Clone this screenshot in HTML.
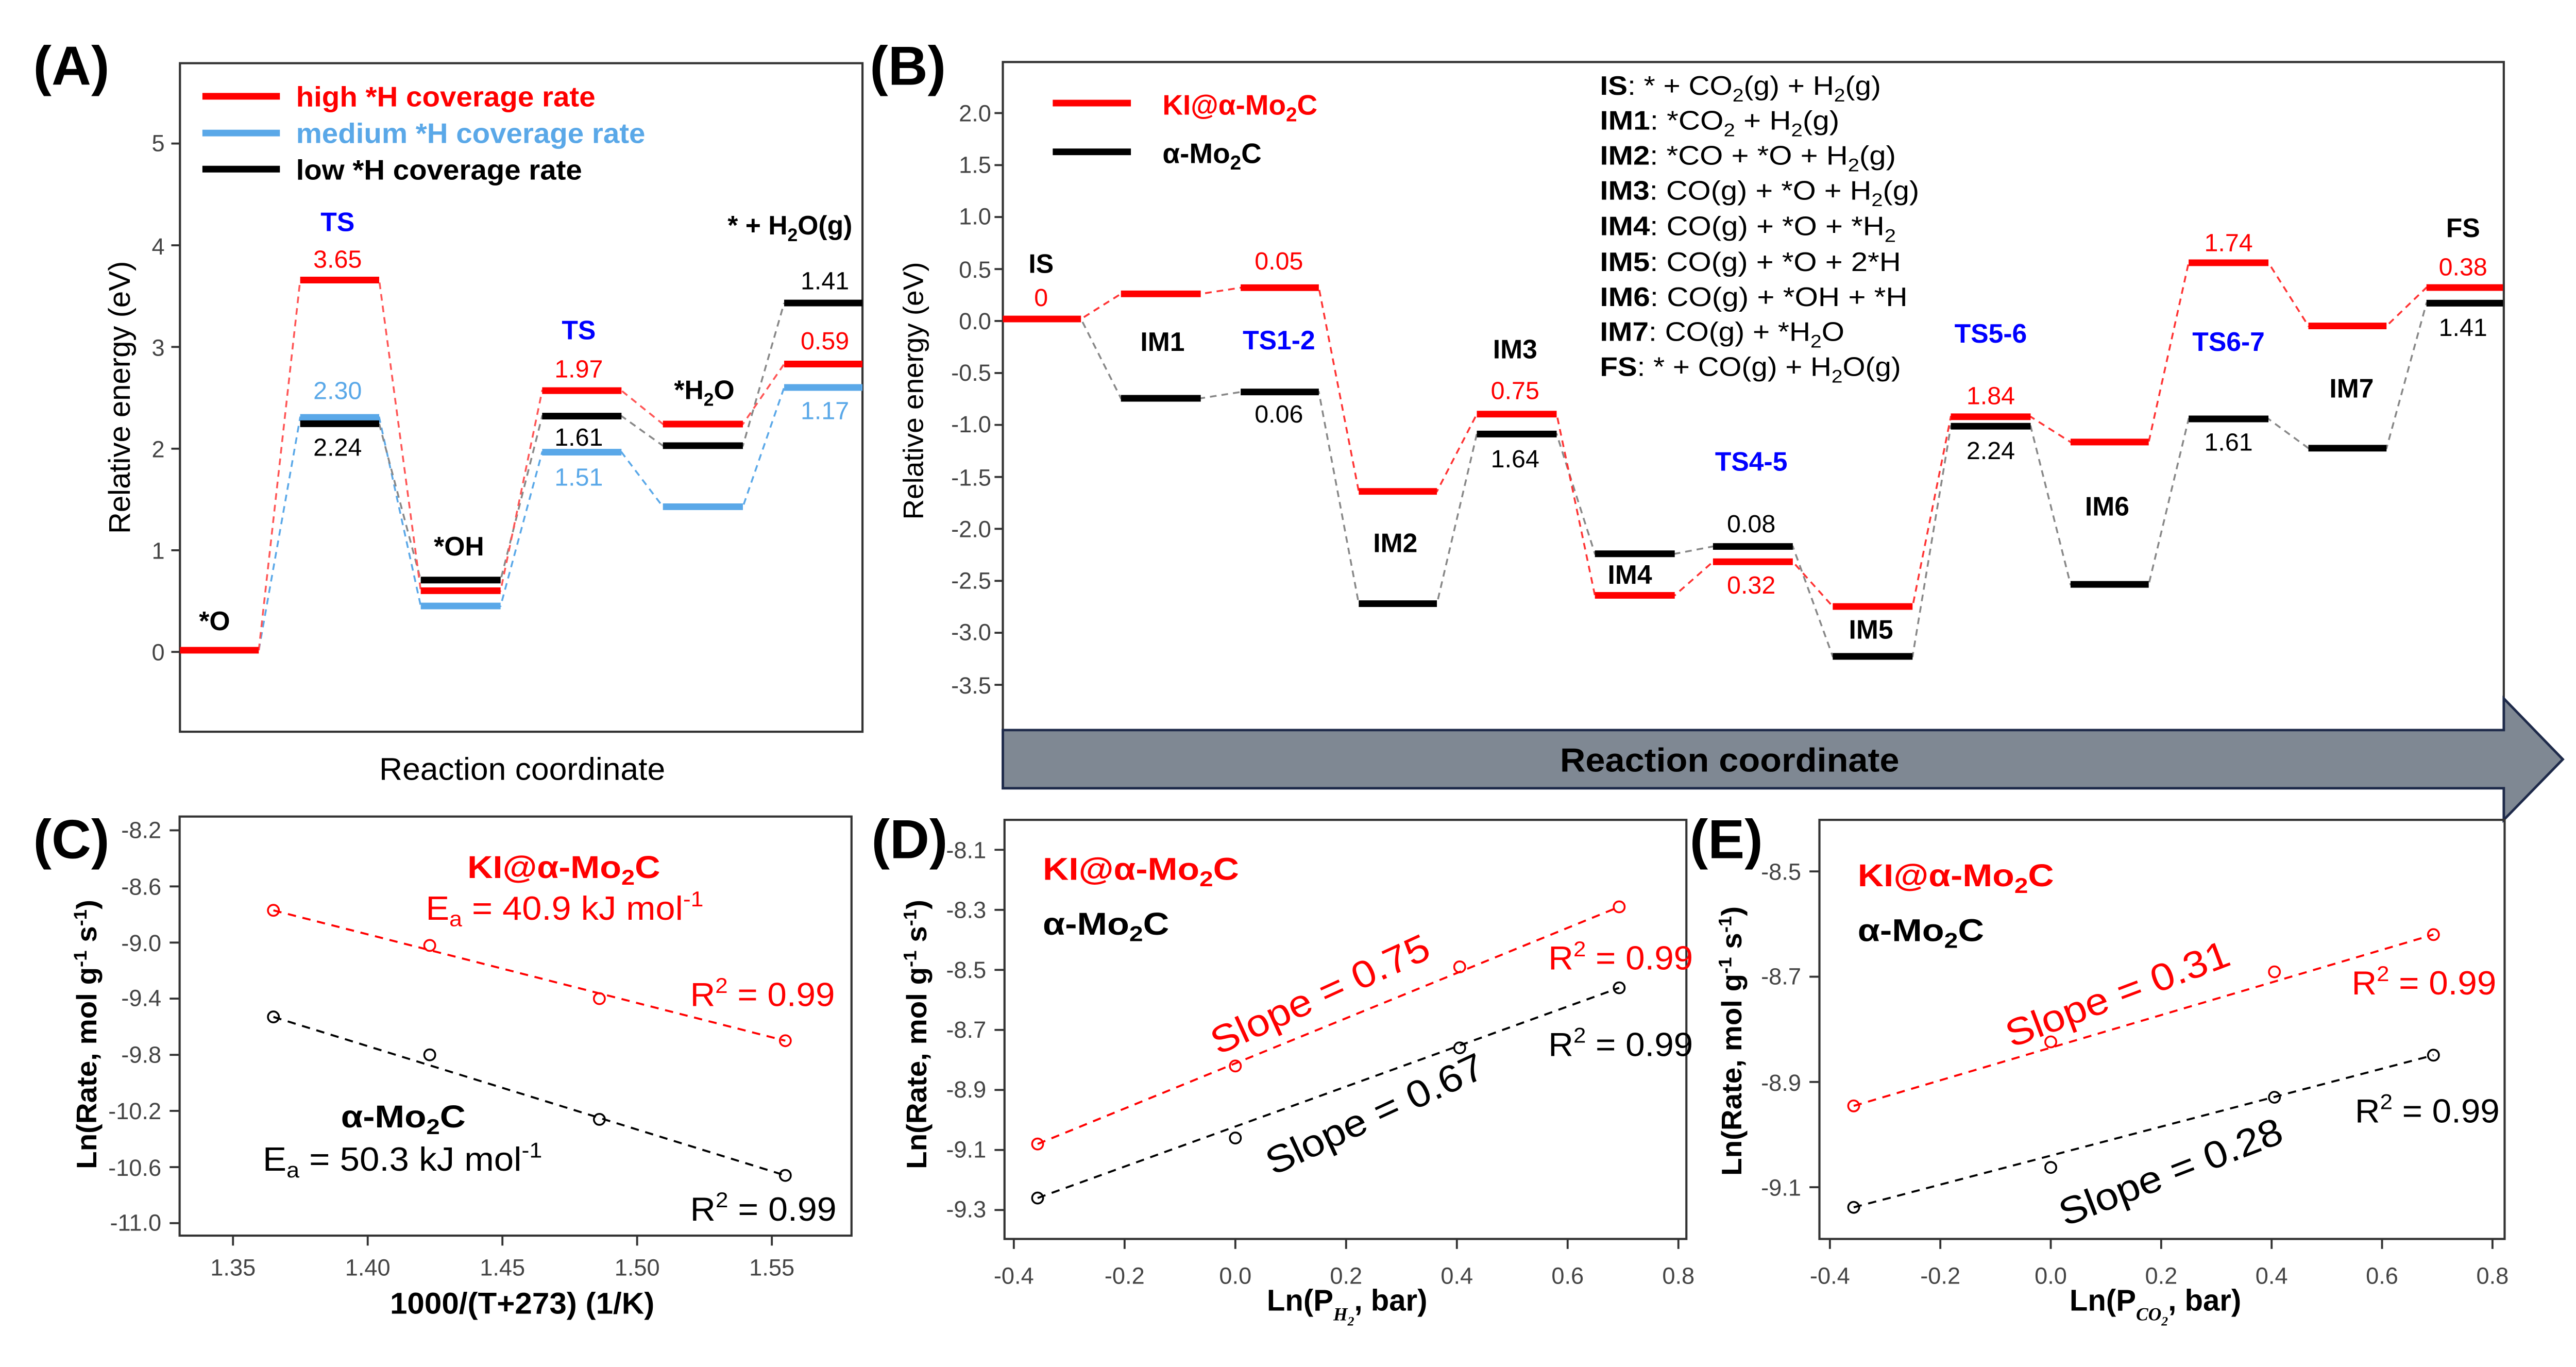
<!DOCTYPE html>
<html><head><meta charset="utf-8"><style>
html,body{margin:0;padding:0;background:#fff;}
svg{display:block;}
text{font-family:"Liberation Sans",sans-serif;}
.n{font-family:"Liberation Sans Narrow","Liberation Sans",sans-serif;}
.tk{font-family:"Liberation Sans Narrow","Liberation Sans",sans-serif;font-size:14px;fill:#444;}
.b{font-weight:bold;}
</style></head><body>
<svg width="5039" height="2653" viewBox="0 0 1561 822" preserveAspectRatio="none" xmlns="http://www.w3.org/2000/svg">
<rect width="1561" height="822" fill="#fff"/>

<!-- ================= PANEL A ================= -->
<text x="20" y="51" font-size="33" class="b">(A)</text>
<rect x="108.2" y="38" width="410.4" height="402" fill="none" stroke="#333" stroke-width="1.3"/>
<g stroke="#333" stroke-width="1.2">
<line x1="103" y1="392" x2="108" y2="392"/><line x1="103" y1="330.9" x2="108" y2="330.9"/><line x1="103" y1="269.8" x2="108" y2="269.8"/><line x1="103" y1="208.6" x2="108" y2="208.6"/><line x1="103" y1="147.5" x2="108" y2="147.5"/><line x1="103" y1="86.3" x2="108" y2="86.3"/>
</g>
<g class="tk" text-anchor="end" font-size="15">
<text x="99" y="397">0</text><text x="99" y="336">1</text><text x="99" y="275">2</text><text x="99" y="214">3</text><text x="99" y="153">4</text><text x="99" y="91">5</text>
</g>
<text transform="translate(78,239) rotate(-90)" text-anchor="middle" font-size="18">Relative energy (eV)</text>
<text x="314" y="469" text-anchor="middle" font-size="19" textLength="172" lengthAdjust="spacingAndGlyphs">Reaction coordinate</text>
<!-- legend -->
<line x1="121.7" y1="57.9" x2="168.3" y2="57.9" stroke="#f00" stroke-width="4"/>
<line x1="121.7" y1="80" x2="168.3" y2="80" stroke="#5aa8e8" stroke-width="4"/>
<line x1="121.7" y1="101.7" x2="168.3" y2="101.7" stroke="#000" stroke-width="4"/>
<text x="178" y="64" font-size="17" class="b" fill="#f00" textLength="180" lengthAdjust="spacingAndGlyphs">high *H coverage rate</text>
<text x="178" y="86" font-size="17" class="b" fill="#5aa8e8" textLength="210" lengthAdjust="spacingAndGlyphs">medium *H coverage rate</text>
<text x="178" y="108" font-size="17" class="b" textLength="172" lengthAdjust="spacingAndGlyphs">low *H coverage rate</text>
<!-- connectors -->
<g fill="none" stroke-width="1.1" stroke-dasharray="4,3">
<polyline stroke="#5aa8e8" points="155.6,391 180.5,251 228,251 253,364.4 301,364.4 326,271.9 373.7,271.9 398.6,304.7 446.7,304.7 471.5,233"/>
<polyline stroke="#888" points="228,254.8 253,348.8 301,348.8 326,250.2 373.7,250.2 398.6,268 446.7,268 471.5,182.2"/>
<polyline stroke="#f55" points="155.6,391 180.5,168.4 228,168.4 253,355.2 301,355.2 326,234.9 373.7,234.9 398.6,255 446.7,255 471.5,218.9"/>
</g>
<g stroke-width="4">
<line x1="108.2" y1="391" x2="155.6" y2="391" stroke="#f00"/>
<line x1="180.5" y1="251" x2="228" y2="251" stroke="#5aa8e8"/>
<line x1="180.5" y1="254.8" x2="228" y2="254.8" stroke="#000"/>
<line x1="180.5" y1="168.4" x2="228" y2="168.4" stroke="#f00"/>
<line x1="253" y1="348.8" x2="301" y2="348.8" stroke="#000"/>
<line x1="253" y1="355.2" x2="301" y2="355.2" stroke="#f00"/>
<line x1="253" y1="364.4" x2="301" y2="364.4" stroke="#5aa8e8"/>
<line x1="326" y1="234.9" x2="373.7" y2="234.9" stroke="#f00"/>
<line x1="326" y1="250.2" x2="373.7" y2="250.2" stroke="#000"/>
<line x1="326" y1="271.9" x2="373.7" y2="271.9" stroke="#5aa8e8"/>
<line x1="398.6" y1="255" x2="446.7" y2="255" stroke="#f00"/>
<line x1="398.6" y1="268" x2="446.7" y2="268" stroke="#000"/>
<line x1="398.6" y1="304.7" x2="446.7" y2="304.7" stroke="#5aa8e8"/>
<line x1="471.5" y1="182.2" x2="518.6" y2="182.2" stroke="#000"/>
<line x1="471.5" y1="218.9" x2="518.6" y2="218.9" stroke="#f00"/>
<line x1="471.5" y1="233" x2="518.6" y2="233" stroke="#5aa8e8"/>
</g>
<g text-anchor="middle" font-size="15">
<text x="203" y="139" class="b" fill="#00f" font-size="16">TS</text>
<text x="203" y="161" fill="#f00">3.65</text>
<text x="203" y="240" fill="#5aa8e8">2.30</text>
<text x="203" y="274">2.24</text>
<text x="276" y="334" class="b" font-size="16">*OH</text>
<text x="348" y="204" class="b" fill="#00f" font-size="16">TS</text>
<text x="348" y="227" fill="#f00">1.97</text>
<text x="348" y="268">1.61</text>
<text x="348" y="292" fill="#5aa8e8">1.51</text>
<text x="423.5" y="240" class="b" font-size="16">*H<tspan font-size="11" dy="4">2</tspan><tspan dy="-4">O</tspan></text>
<text x="475" y="141" class="b" font-size="16">* + H<tspan font-size="11" dy="4">2</tspan><tspan dy="-4">O(g)</tspan></text>
<text x="496" y="174">1.41</text>
<text x="496" y="210" fill="#f00">0.59</text>
<text x="496" y="252" fill="#5aa8e8">1.17</text>
<text x="129" y="379" class="b" font-size="16">*O</text>
</g>

<!-- ================= PANEL B ================= -->
<text x="523" y="51" font-size="33" class="b">(B)</text>
<polyline points="603,439 603,37.3 1505.5,37.3 1505.5,420" fill="none" stroke="#333" stroke-width="1.3"/>
<polygon points="603,439 1505.5,439 1505.5,420 1541,456.6 1505.5,493 1505.5,474 603,474" fill="#7f8893" stroke="#1e2a4a" stroke-width="1.5"/>
<text x="1040" y="464" text-anchor="middle" font-size="20" class="b" textLength="204" lengthAdjust="spacingAndGlyphs">Reaction coordinate</text>
<g stroke="#333" stroke-width="1.2">
<line x1="598" y1="68" x2="603" y2="68"/><line x1="598" y1="99.3" x2="603" y2="99.3"/><line x1="598" y1="130.5" x2="603" y2="130.5"/><line x1="598" y1="161.8" x2="603" y2="161.8"/><line x1="598" y1="193" x2="603" y2="193"/><line x1="598" y1="224.3" x2="603" y2="224.3"/><line x1="598" y1="255.5" x2="603" y2="255.5"/><line x1="598" y1="286.8" x2="603" y2="286.8"/><line x1="598" y1="318" x2="603" y2="318"/><line x1="598" y1="349.3" x2="603" y2="349.3"/><line x1="598" y1="380.5" x2="603" y2="380.5"/><line x1="598" y1="411.8" x2="603" y2="411.8"/>
</g>
<g class="tk" text-anchor="end" font-size="15">
<text x="596" y="73">2.0</text><text x="596" y="104">1.5</text><text x="596" y="135">1.0</text><text x="596" y="167">0.5</text><text x="596" y="198">0.0</text><text x="596" y="229">-0.5</text><text x="596" y="260">-1.0</text><text x="596" y="292">-1.5</text><text x="596" y="323">-2.0</text><text x="596" y="354">-2.5</text><text x="596" y="385">-3.0</text><text x="596" y="417">-3.5</text>
</g>
<text transform="translate(555,235) rotate(-90)" text-anchor="middle" font-size="17">Relative energy (eV)</text>
<!-- legend -->
<line x1="633" y1="62" x2="680" y2="62" stroke="#f00" stroke-width="4"/>
<line x1="633" y1="91.3" x2="680" y2="91.3" stroke="#000" stroke-width="4"/>
<text x="699" y="69" class="n b" font-size="17" fill="#f00">KI@α-Mo<tspan font-size="12" dy="4">2</tspan><tspan dy="-4">C</tspan></text>
<text x="699" y="98" class="n b" font-size="17">α-Mo<tspan font-size="12" dy="4">2</tspan><tspan dy="-4">C</tspan></text>
<!-- text block -->
<g class="n" font-size="16">
<text x="962" y="57" textLength="169" lengthAdjust="spacingAndGlyphs"><tspan class="b">IS</tspan>: * + CO<tspan font-size="11" dy="4">2</tspan><tspan dy="-4">(g) + H</tspan><tspan font-size="11" dy="4">2</tspan><tspan dy="-4">(g)</tspan></text>
<text x="962" y="78" textLength="144" lengthAdjust="spacingAndGlyphs"><tspan class="b">IM1</tspan>: *CO<tspan font-size="11" dy="4">2</tspan><tspan dy="-4">  + H</tspan><tspan font-size="11" dy="4">2</tspan><tspan dy="-4">(g)</tspan></text>
<text x="962" y="99" textLength="178" lengthAdjust="spacingAndGlyphs"><tspan class="b">IM2</tspan>: *CO + *O  + H<tspan font-size="11" dy="4">2</tspan><tspan dy="-4">(g)</tspan></text>
<text x="962" y="120" textLength="192" lengthAdjust="spacingAndGlyphs"><tspan class="b">IM3</tspan>: CO(g) + *O  + H<tspan font-size="11" dy="4">2</tspan><tspan dy="-4">(g)</tspan></text>
<text x="962" y="141.5" textLength="178" lengthAdjust="spacingAndGlyphs"><tspan class="b">IM4</tspan>: CO(g) + *O  + *H<tspan font-size="11" dy="4">2</tspan></text>
<text x="962" y="163" textLength="181" lengthAdjust="spacingAndGlyphs"><tspan class="b">IM5</tspan>: CO(g) + *O  + 2*H</text>
<text x="962" y="184" textLength="185" lengthAdjust="spacingAndGlyphs"><tspan class="b">IM6</tspan>: CO(g) + *OH  + *H</text>
<text x="962" y="205" textLength="147" lengthAdjust="spacingAndGlyphs"><tspan class="b">IM7</tspan>: CO(g) + *H<tspan font-size="11" dy="4">2</tspan><tspan dy="-4">O</tspan></text>
<text x="962" y="226" textLength="181" lengthAdjust="spacingAndGlyphs"><tspan class="b">FS</tspan>: * + CO(g) + H<tspan font-size="11" dy="4">2</tspan><tspan dy="-4">O(g)</tspan></text>
</g>
<!-- connectors -->
<g fill="none" stroke-width="1.1" stroke-dasharray="4,3">
<polyline stroke="#888" points="603,191.8 650,191.8 674,239.5 722,239.5 746,235.7 793,235.7 817,363 864,363 888,261 936,261 959,333 1007,333 1030,328.6 1078,328.6 1102,394.7 1150,394.7 1173,256.3 1221,256.3 1245,351.4 1292,351.4 1316,251.9 1364,251.9 1388,269.5 1435,269.5 1459,182.3 1505,182.3"/>
<polyline stroke="#f33" points="603,191.8 650,191.8 674,176.7 722,176.7 746,173 793,173 817,295.5 864,295.5 888,249 936,249 959,358 1007,358 1030,337.8 1078,337.8 1102,364.7 1150,364.7 1173,250.6 1221,250.6 1245,265.8 1292,265.8 1316,158 1364,158 1388,196 1435,196 1459,172.9 1505,172.9"/>
</g>
<g stroke-width="4" stroke="#000">
<line x1="674" y1="239.5" x2="722" y2="239.5"/><line x1="746" y1="235.7" x2="793" y2="235.7"/><line x1="817" y1="363" x2="864" y2="363"/><line x1="888" y1="261" x2="936" y2="261"/><line x1="959" y1="333" x2="1007" y2="333"/><line x1="1030" y1="328.6" x2="1078" y2="328.6"/><line x1="1102" y1="394.7" x2="1150" y2="394.7"/><line x1="1173" y1="256.3" x2="1221" y2="256.3"/><line x1="1245" y1="351.4" x2="1292" y2="351.4"/><line x1="1316" y1="251.9" x2="1364" y2="251.9"/><line x1="1388" y1="269.5" x2="1435" y2="269.5"/><line x1="1459" y1="182.3" x2="1505" y2="182.3"/>
</g>
<g stroke-width="4" stroke="#f00">
<line x1="603" y1="191.8" x2="650" y2="191.8"/><line x1="674" y1="176.7" x2="722" y2="176.7"/><line x1="746" y1="173" x2="793" y2="173"/><line x1="817" y1="295.5" x2="864" y2="295.5"/><line x1="888" y1="249" x2="936" y2="249"/><line x1="959" y1="358" x2="1007" y2="358"/><line x1="1030" y1="337.8" x2="1078" y2="337.8"/><line x1="1102" y1="364.7" x2="1150" y2="364.7"/><line x1="1173" y1="250.6" x2="1221" y2="250.6"/><line x1="1245" y1="265.8" x2="1292" y2="265.8"/><line x1="1316" y1="158" x2="1364" y2="158"/><line x1="1388" y1="196" x2="1435" y2="196"/><line x1="1459" y1="172.9" x2="1505" y2="172.9"/>
</g>
<g class="n" text-anchor="middle" font-size="15">
<text x="626" y="164" class="b" font-size="16">IS</text>
<text x="626" y="184" fill="#f00">0</text>
<text x="699" y="211" class="b" font-size="16">IM1</text>
<text x="769" y="210" class="b" fill="#00f" font-size="16">TS1-2</text>
<text x="769" y="162" fill="#f00">0.05</text>
<text x="769" y="254">0.06</text>
<text x="839" y="332" class="b" font-size="16">IM2</text>
<text x="911" y="215.5" class="b" font-size="16">IM3</text>
<text x="911" y="240" fill="#f00">0.75</text>
<text x="911" y="281">1.64</text>
<text x="980" y="351" class="b" font-size="16">IM4</text>
<text x="1053" y="283" class="b" fill="#00f" font-size="16">TS4-5</text>
<text x="1053" y="320">0.08</text>
<text x="1053" y="357" fill="#f00">0.32</text>
<text x="1125" y="384" class="b" font-size="16">IM5</text>
<text x="1197" y="206" class="b" fill="#00f" font-size="16">TS5-6</text>
<text x="1197" y="243" fill="#f00">1.84</text>
<text x="1197" y="276">2.24</text>
<text x="1267" y="310" class="b" font-size="16">IM6</text>
<text x="1340" y="211" class="b" fill="#00f" font-size="16">TS6-7</text>
<text x="1340" y="151" fill="#f00">1.74</text>
<text x="1340" y="271">1.61</text>
<text x="1414" y="239" class="b" font-size="16">IM7</text>
<text x="1481" y="142.5" class="b" font-size="16">FS</text>
<text x="1481" y="165.6" fill="#f00">0.38</text>
<text x="1481" y="202">1.41</text>
</g>

<!-- ================= PANEL C ================= -->
<text x="20" y="516" font-size="33" class="b">(C)</text>
<rect x="108" y="491" width="404" height="252" fill="none" stroke="#333" stroke-width="1.3"/>
<g stroke="#333" stroke-width="1.2">
<line x1="102" y1="499.3" x2="108" y2="499.3"/><line x1="102" y1="533" x2="108" y2="533"/><line x1="102" y1="566.8" x2="108" y2="566.8"/><line x1="102" y1="600.5" x2="108" y2="600.5"/><line x1="102" y1="634.3" x2="108" y2="634.3"/><line x1="102" y1="668" x2="108" y2="668"/><line x1="102" y1="701.8" x2="108" y2="701.8"/><line x1="102" y1="735.5" x2="108" y2="735.5"/>
<line x1="140.1" y1="743" x2="140.1" y2="749"/><line x1="221.1" y1="743" x2="221.1" y2="749"/><line x1="302.1" y1="743" x2="302.1" y2="749"/><line x1="383.1" y1="743" x2="383.1" y2="749"/><line x1="464.1" y1="743" x2="464.1" y2="749"/>
</g>
<g class="tk" text-anchor="end">
<text x="97" y="504">-8.2</text><text x="97" y="538">-8.6</text><text x="97" y="572">-9.0</text><text x="97" y="605">-9.4</text><text x="97" y="639">-9.8</text><text x="97" y="673">-10.2</text><text x="97" y="707">-10.6</text><text x="97" y="740">-11.0</text>
</g>
<g class="tk" text-anchor="middle">
<text x="140.1" y="767">1.35</text><text x="221.1" y="767">1.40</text><text x="302.1" y="767">1.45</text><text x="383.1" y="767">1.50</text><text x="464.1" y="767">1.55</text>
</g>
<text transform="translate(58,622) rotate(-90)" text-anchor="middle" font-size="17" class="b" textLength="162" lengthAdjust="spacingAndGlyphs">Ln(Rate, mol g<tspan font-size="11" dy="-6">-1</tspan><tspan dy="6"> s</tspan><tspan font-size="11" dy="-6">-1</tspan><tspan dy="6">)</tspan></text>
<text x="314" y="790" text-anchor="middle" class="n b" font-size="18" textLength="159" lengthAdjust="spacingAndGlyphs">1000/(T+273) (1/K)</text>
<g fill="none" stroke-width="1.2" stroke-dasharray="5,4">
<line x1="164.4" y1="547.4" x2="472.2" y2="625.8" stroke="#f00"/>
<line x1="164.4" y1="611.5" x2="472.2" y2="706.8" stroke="#000"/>
</g>
<g fill="none" stroke-width="1.1">
<g stroke="#f00"><circle cx="164.4" cy="547.4" r="3.3"/><circle cx="258.4" cy="568.5" r="3.3"/><circle cx="360.4" cy="600.5" r="3.3"/><circle cx="472.2" cy="625.8" r="3.3"/></g>
<g stroke="#000"><circle cx="164.4" cy="611.5" r="3.3"/><circle cx="258.4" cy="634.3" r="3.3"/><circle cx="360.4" cy="673.1" r="3.3"/><circle cx="472.2" cy="706.8" r="3.3"/></g>
</g>
<text x="281" y="528" class="n b" font-size="19" fill="#f00" textLength="116" lengthAdjust="spacingAndGlyphs">KI@α-Mo<tspan font-size="13" dy="4">2</tspan><tspan dy="-4">C</tspan></text>
<text x="256" y="553" class="n" font-size="20" fill="#f00" textLength="167" lengthAdjust="spacingAndGlyphs">E<tspan font-size="13" dy="4">a</tspan><tspan dy="-4"> = 40.9 kJ mol</tspan><tspan font-size="13" dy="-8">-1</tspan></text>
<text x="415" y="605" class="n" font-size="20" fill="#f00" textLength="87" lengthAdjust="spacingAndGlyphs">R<tspan font-size="13" dy="-8">2</tspan><tspan dy="8"> = 0.99</tspan></text>
<text x="205" y="678" class="n b" font-size="19" textLength="75" lengthAdjust="spacingAndGlyphs">α-Mo<tspan font-size="13" dy="4">2</tspan><tspan dy="-4">C</tspan></text>
<text x="158" y="704" class="n" font-size="20" textLength="168" lengthAdjust="spacingAndGlyphs">E<tspan font-size="13" dy="4">a</tspan><tspan dy="-4"> = 50.3 kJ mol</tspan><tspan font-size="13" dy="-8">-1</tspan></text>
<text x="415" y="734" class="n" font-size="20" textLength="88" lengthAdjust="spacingAndGlyphs">R<tspan font-size="13" dy="-8">2</tspan><tspan dy="8"> = 0.99</tspan></text>

<!-- ================= PANEL D ================= -->
<text x="524" y="516" font-size="33" class="b">(D)</text>
<rect x="604" y="493" width="410" height="252" fill="none" stroke="#333" stroke-width="1.3"/>
<g stroke="#333" stroke-width="1.2">
<line x1="598" y1="511" x2="604" y2="511"/><line x1="598" y1="547.1" x2="604" y2="547.1"/><line x1="598" y1="583.2" x2="604" y2="583.2"/><line x1="598" y1="619.3" x2="604" y2="619.3"/><line x1="598" y1="655.4" x2="604" y2="655.4"/><line x1="598" y1="691.5" x2="604" y2="691.5"/><line x1="598" y1="727.6" x2="604" y2="727.6"/>
<line x1="609.6" y1="745" x2="609.6" y2="751"/><line x1="676.2" y1="745" x2="676.2" y2="751"/><line x1="742.8" y1="745" x2="742.8" y2="751"/><line x1="809.4" y1="745" x2="809.4" y2="751"/><line x1="876" y1="745" x2="876" y2="751"/><line x1="942.6" y1="745" x2="942.6" y2="751"/><line x1="1009.2" y1="745" x2="1009.2" y2="751"/>
</g>
<g class="tk" text-anchor="end">
<text x="593" y="516">-8.1</text><text x="593" y="552">-8.3</text><text x="593" y="588">-8.5</text><text x="593" y="624">-8.7</text><text x="593" y="660">-8.9</text><text x="593" y="696">-9.1</text><text x="593" y="732">-9.3</text>
</g>
<g class="tk" text-anchor="middle">
<text x="609.6" y="772">-0.4</text><text x="676.2" y="772">-0.2</text><text x="742.8" y="772">0.0</text><text x="809.4" y="772">0.2</text><text x="876" y="772">0.4</text><text x="942.6" y="772">0.6</text><text x="1009.2" y="772">0.8</text>
</g>
<text transform="translate(557,622) rotate(-90)" text-anchor="middle" font-size="17" class="b" textLength="162" lengthAdjust="spacingAndGlyphs">Ln(Rate, mol g<tspan font-size="11" dy="-6">-1</tspan><tspan dy="6"> s</tspan><tspan font-size="11" dy="-6">-1</tspan><tspan dy="6">)</tspan></text>
<text x="810" y="788" text-anchor="middle" class="n b" font-size="18">Ln(P<tspan font-size="11" dy="6" font-style="italic" font-family="Liberation Serif">H<tspan font-size="8" dy="3">2</tspan></tspan><tspan dy="-9">, bar)</tspan></text>
<g fill="none" stroke-width="1.2" stroke-dasharray="5,4">
<line x1="623.9" y1="687.9" x2="973.6" y2="545.3" stroke="#f00"/>
<line x1="623.9" y1="720.4" x2="973.6" y2="594" stroke="#000"/>
</g>
<g fill="none" stroke-width="1.1">
<g stroke="#f00"><circle cx="623.9" cy="687.9" r="3.3"/><circle cx="742.8" cy="641" r="3.3"/><circle cx="877.7" cy="581.4" r="3.3"/><circle cx="973.6" cy="545.3" r="3.3"/></g>
<g stroke="#000"><circle cx="623.9" cy="720.4" r="3.3"/><circle cx="742.8" cy="684.3" r="3.3"/><circle cx="877.7" cy="630.1" r="3.3"/><circle cx="973.6" cy="594" r="3.3"/></g>
</g>
<text x="627" y="529" class="n b" font-size="19" fill="#f00" textLength="118" lengthAdjust="spacingAndGlyphs">KI@α-Mo<tspan font-size="13" dy="4">2</tspan><tspan dy="-4">C</tspan></text>
<text x="627" y="562" class="n b" font-size="19" textLength="76" lengthAdjust="spacingAndGlyphs">α-Mo<tspan font-size="13" dy="4">2</tspan><tspan dy="-4">C</tspan></text>
<text transform="translate(797,605) rotate(-24.6)" text-anchor="middle" font-size="23" fill="#f00" textLength="142" lengthAdjust="spacingAndGlyphs">Slope = 0.75</text>
<text transform="translate(830,677) rotate(-25)" text-anchor="middle" font-size="23" textLength="142" lengthAdjust="spacingAndGlyphs">Slope = 0.67</text>
<text x="931" y="583" class="n" font-size="20" fill="#f00" textLength="87" lengthAdjust="spacingAndGlyphs">R<tspan font-size="13" dy="-8">2</tspan><tspan dy="8"> = 0.99</tspan></text>
<text x="931" y="635" class="n" font-size="20" textLength="87" lengthAdjust="spacingAndGlyphs">R<tspan font-size="13" dy="-8">2</tspan><tspan dy="8"> = 0.99</tspan></text>

<!-- ================= PANEL E ================= -->
<text x="1016" y="516" font-size="33" class="b">(E)</text>
<rect x="1094" y="493" width="412" height="252" fill="none" stroke="#333" stroke-width="1.3"/>
<g stroke="#333" stroke-width="1.2">
<line x1="1088" y1="524" x2="1094" y2="524"/><line x1="1088" y1="587.3" x2="1094" y2="587.3"/><line x1="1088" y1="650.6" x2="1094" y2="650.6"/><line x1="1088" y1="713.9" x2="1094" y2="713.9"/>
<line x1="1100.3" y1="745" x2="1100.3" y2="751"/><line x1="1166.7" y1="745" x2="1166.7" y2="751"/><line x1="1233.1" y1="745" x2="1233.1" y2="751"/><line x1="1299.5" y1="745" x2="1299.5" y2="751"/><line x1="1365.9" y1="745" x2="1365.9" y2="751"/><line x1="1432.3" y1="745" x2="1432.3" y2="751"/><line x1="1498.7" y1="745" x2="1498.7" y2="751"/>
</g>
<g class="tk" text-anchor="end">
<text x="1083" y="529">-8.5</text><text x="1083" y="592">-8.7</text><text x="1083" y="656">-8.9</text><text x="1083" y="719">-9.1</text>
</g>
<g class="tk" text-anchor="middle">
<text x="1100.3" y="772">-0.4</text><text x="1166.7" y="772">-0.2</text><text x="1233.1" y="772">0.0</text><text x="1299.5" y="772">0.2</text><text x="1365.9" y="772">0.4</text><text x="1432.3" y="772">0.6</text><text x="1498.7" y="772">0.8</text>
</g>
<text transform="translate(1047,626) rotate(-90)" text-anchor="middle" font-size="17" class="b" textLength="162" lengthAdjust="spacingAndGlyphs">Ln(Rate, mol g<tspan font-size="11" dy="-6">-1</tspan><tspan dy="6"> s</tspan><tspan font-size="11" dy="-6">-1</tspan><tspan dy="6">)</tspan></text>
<text x="1296" y="788" text-anchor="middle" class="n b" font-size="18">Ln(P<tspan font-size="11" dy="6" font-style="italic" font-family="Liberation Serif">CO<tspan font-size="8" dy="3">2</tspan></tspan><tspan dy="-9">, bar)</tspan></text>
<g fill="none" stroke-width="1.2" stroke-dasharray="5,4">
<line x1="1114.6" y1="665" x2="1463.2" y2="562" stroke="#f00"/>
<line x1="1114.6" y1="726" x2="1463.2" y2="634.5" stroke="#000"/>
</g>
<g fill="none" stroke-width="1.1">
<g stroke="#f00"><circle cx="1114.6" cy="665" r="3.3"/><circle cx="1233.1" cy="626.5" r="3.3"/><circle cx="1367.6" cy="584.4" r="3.3"/><circle cx="1463.2" cy="562" r="3.3"/></g>
<g stroke="#000"><circle cx="1114.6" cy="726" r="3.3"/><circle cx="1233.1" cy="702" r="3.3"/><circle cx="1367.6" cy="659.8" r="3.3"/><circle cx="1463.2" cy="634.5" r="3.3"/></g>
</g>
<text x="1117" y="533" class="n b" font-size="19" fill="#f00" textLength="118" lengthAdjust="spacingAndGlyphs">KI@α-Mo<tspan font-size="13" dy="4">2</tspan><tspan dy="-4">C</tspan></text>
<text x="1117" y="566" class="n b" font-size="19" textLength="76" lengthAdjust="spacingAndGlyphs">α-Mo<tspan font-size="13" dy="4">2</tspan><tspan dy="-4">C</tspan></text>
<text transform="translate(1276,605) rotate(-20.7)" text-anchor="middle" font-size="23" fill="#f00" textLength="142" lengthAdjust="spacingAndGlyphs">Slope = 0.31</text>
<text transform="translate(1308,712) rotate(-21.1)" text-anchor="middle" font-size="23" textLength="142" lengthAdjust="spacingAndGlyphs">Slope = 0.28</text>
<text x="1414" y="598" class="n" font-size="20" fill="#f00" textLength="87" lengthAdjust="spacingAndGlyphs">R<tspan font-size="13" dy="-8">2</tspan><tspan dy="8"> = 0.99</tspan></text>
<text x="1416" y="675" class="n" font-size="20" textLength="87" lengthAdjust="spacingAndGlyphs">R<tspan font-size="13" dy="-8">2</tspan><tspan dy="8"> = 0.99</tspan></text>
</svg>
</body></html>
